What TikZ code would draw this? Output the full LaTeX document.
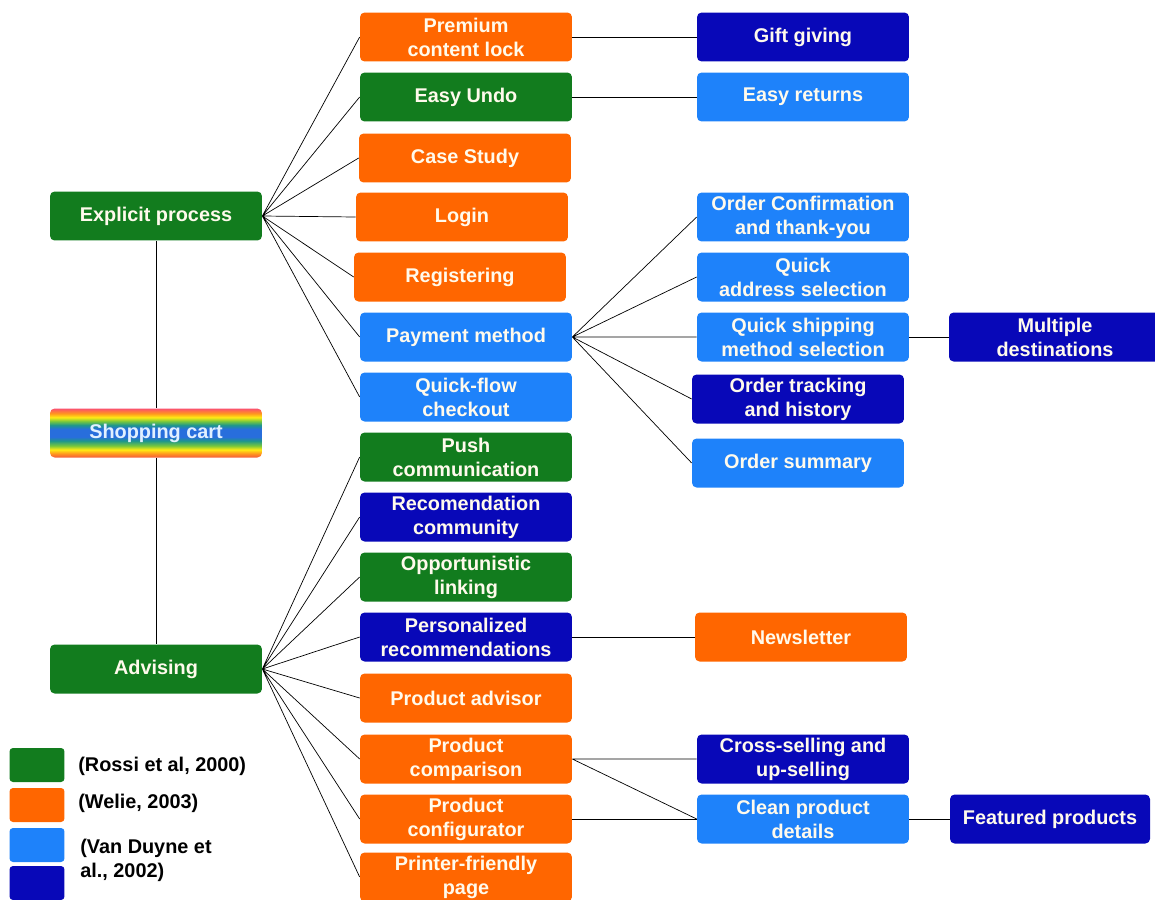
\documentclass[tikz,border=0pt]{standalone}
\usepackage{fontspec}
\setmainfont{Liberation Sans}
\usepackage{tikz}
\usetikzlibrary{positioning}
\definecolor{rossigreen}{RGB}{18,124,30}
\definecolor{welieorange}{RGB}{255,102,0}
\definecolor{duynelight}{RGB}{30,130,250}
\definecolor{duynedark}{RGB}{8,8,184}
\definecolor{boxtext}{RGB}{255,250,236}
\definecolor{cartsky}{RGB}{225,240,255}
\definecolor{rbpink}{RGB}{250,80,110}
\definecolor{rbred}{RGB}{245,90,60}
\definecolor{rborange}{RGB}{255,150,30}
\definecolor{rbyellow}{RGB}{255,235,20}
\definecolor{rbgreen}{RGB}{120,200,60}
\definecolor{rbteal}{RGB}{30,150,140}
\definecolor{rbblue}{RGB}{40,110,220}
\pgfdeclareverticalshading{cartrainbow}{100bp}{color(0bp)=(rbred); color(25bp)=(rbred);
  color(29bp)=(rborange); color(33bp)=(rbyellow); color(37bp)=(rbgreen); color(42bp)=(rbteal);
  color(46bp)=(rbblue); color(54bp)=(rbblue); color(58bp)=(rbteal); color(62bp)=(rbgreen);
  color(66bp)=(rbyellow); color(70bp)=(rborange); color(75bp)=(rbpink); color(100bp)=(rbpink)}
\tikzset{
  pattbox/.style={rounded corners=2.6pt, minimum width=4.24cm, minimum height=0.98cm,
    inner sep=0pt, align=center, text=boxtext,
    font=\fontsize{11.3}{13.7}\selectfont\bfseries},
  rossi/.style={pattbox, fill=rossigreen},
  welie/.style={pattbox, fill=welieorange},
  duyne/.style={pattbox, fill=duynelight},
  duynedk/.style={pattbox, fill=duynedark},
  legbox/.style={rounded corners=2pt, minimum width=1.1cm, minimum height=0.68cm, inner sep=0pt},
  legtext/.style={anchor=west, inner sep=0pt, align=left,
    font=\fontsize{11.3}{13.7}\selectfont\bfseries}
}
\begin{document}
\begin{tikzpicture}[x=0.02cm,y=-0.02cm]
  \useasboundingbox (0,0) rectangle (1155,899);
  %root column
    \node[rossi] (ep) at (156,216) {Explicit process};
    \node[pattbox, shading=cartrainbow, text=cartsky] (sc) at (156,433) {Shopping cart};
    \node[rossi] (adv) at (156,669) {Advising};
  %second column
    \node[welie] (pcl) at (466,37) {Premium\\content lock};
    \node[rossi] (eu) at (466,97) {Easy Undo};
    \node[welie] (cs) at (465,158) {Case Study};
    \node[welie] (lgn) at (462,217) {Login};
    \node[welie] (reg) at (460,277) {Registering};
    \node[duyne] (pm) at (466,337) {Payment method};
    \node[duyne] (qfc) at (466,397) {Quick-flow\\checkout};
    \node[rossi] (pc) at (466,457) {Push\\communication};
    \node[duynedk] (rc) at (466,517) {Recomendation\\community};
    \node[rossi] (ol) at (466,577) {Opportunistic\\linking};
    \node[duynedk] (pr) at (466,637) {Personalized\\recommendations};
    \node[welie] (pa) at (466,698) {Product advisor};
    \node[welie] (pcmp) at (466,759) {Product\\comparison};
    \node[welie] (pcfg) at (466,819) {Product\\configurator};
    \node[welie] (pfp) at (466,877) {Printer-friendly\\page};
  %third column
    \node[duynedk] (gg) at (803,37) {Gift giving};
    \node[duyne] (er) at (803,97) {Easy returns};
    \node[duyne] (oc) at (803,217) {Order Confirmation\\and thank-you};
    \node[duyne] (qa) at (803,277) {Quick\\address selection};
    \node[duyne] (qs) at (803,337) {Quick shipping\\method selection};
    \node[duynedk] (ot) at (798,399) {Order tracking\\and history};
    \node[duyne] (os) at (798,463) {Order summary};
    \node[welie] (nl) at (801,637) {Newsletter};
    \node[duynedk] (xs) at (803,759) {Cross-selling and\\up-selling};
    \node[duyne] (cpd) at (803,819) {Clean product\\details};
  %fourth column
    \node[duynedk] (md) at (1055,337) {Multiple\\destinations};
    \node[duynedk, minimum width=4cm] (fp) at (1050,819) {Featured products};
  %draw links
    \draw (ep) -- (sc) -- (adv);
    \draw (ep.east) -- (pcl.west) (ep.east) -- (eu.west) (ep.east) -- (cs.west)
          (ep.east) -- (lgn.west) (ep.east) -- (reg.west) (ep.east) -- (pm.west)
          (ep.east) -- (qfc.west);
    \draw (adv.east) -- (pc.west) (adv.east) -- (rc.west) (adv.east) -- (ol.west)
          (adv.east) -- (pr.west) (adv.east) -- (pa.west) (adv.east) -- (pcmp.west)
          (adv.east) -- (pcfg.west) (adv.east) -- (pfp.west);
    \draw (pcl) -- (gg);
    \draw (eu) -- (er);
    \draw (pm.east) -- (oc.west) (pm.east) -- (qa.west) (pm.east) -- (qs.west)
          (pm.east) -- (ot.west) (pm.east) -- (os.west);
    \draw (qs) -- (md);
    \draw (pr) -- (nl);
    \draw (pcmp.east) -- (xs.west) (pcmp.east) -- (cpd.west);
    \draw (pcfg) -- (cpd);
    \draw (cpd) -- (fp);
  %legend
    \node[legbox, fill=rossigreen] (lg1) at (37,765) {};
    \node[legbox, fill=welieorange] (lg2) at (37,805) {};
    \node[legbox, fill=duynelight] (lg3) at (37,845) {};
    \node[legbox, fill=duynedark] (lg4) at (37,883) {};
    \node[legtext] (lt1) at (78,766) {(Rossi et al, 2000)};
    \node[legtext] (lt2) at (78,803) {(Welie, 2003)};
    \node[legtext] (lt3) at (80,860) {(Van Duyne et\\al., 2002)};
\end{tikzpicture}
\end{document}
